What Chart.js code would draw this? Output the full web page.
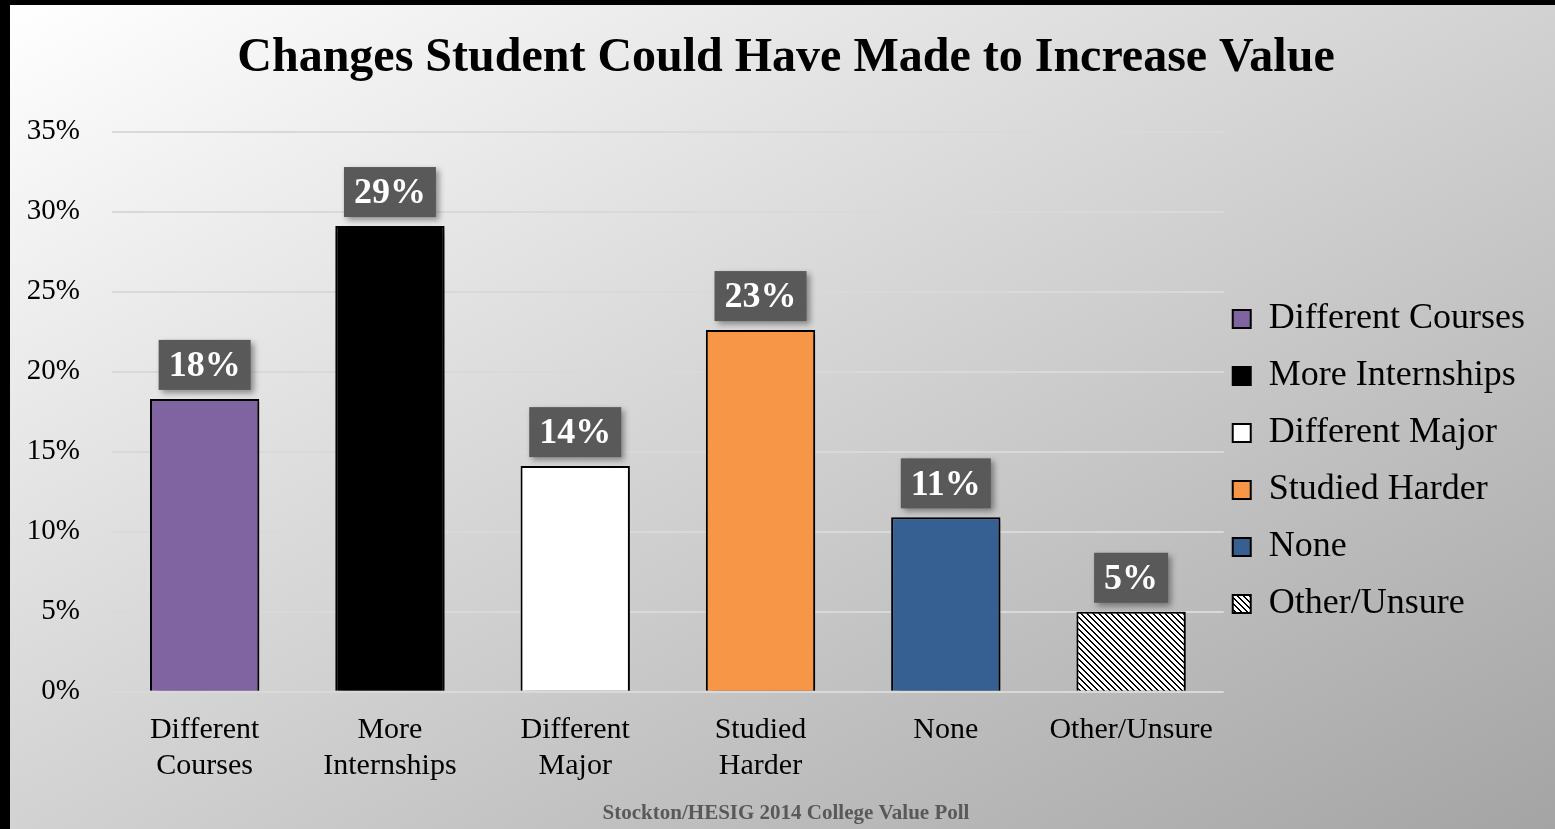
<!DOCTYPE html>
<html>
<head>
<meta charset="utf-8">
<script src="https://cdn.jsdelivr.net/npm/chart.js@4/dist/chart.umd.min.js"></script>
<style>
  html, body { margin: 0; padding: 0; background: #000; }
  #wrap {
    position: absolute; left: 10px; top: 5px; width: 1545px; height: 824px;
    background: linear-gradient(to bottom right, #ffffff 0%, #d2d2d2 50%, #a4a4a4 100%);
  }
  canvas { display: block; }
</style>
</head>
<body>
<div id="wrap"><canvas id="chart" width="1545" height="824"></canvas></div>
<script>
// chart values
var categories = ['Different Courses', 'More Internships', 'Different Major', 'Studied Harder', 'None', 'Other/Unsure'];
var tickLines  = [['Different', 'Courses'], ['More', 'Internships'], ['Different', 'Major'], ['Studied', 'Harder'], ['None'], ['Other/Unsure']];
var percents   = [18.3, 29.1, 14.1, 22.6, 10.9, 5.0];
var yTicks     = [0, 5, 10, 15, 20, 25, 30, 35];

var serif = "'Liberation Serif', 'Times New Roman', serif";

// hatch fill for Other/Unsure
var tile = document.createElement('canvas');
tile.width = 6; tile.height = 6;
var tctx = tile.getContext('2d');
tctx.fillStyle = '#fff';
tctx.fillRect(0, 0, 6, 6);
tctx.fillStyle = '#000';
for (var i = 0; i < 6; i++) {
    tctx.fillRect(i, i, 1, 1);
    tctx.fillRect((i + 1) % 6, i, 1, 1);
}
var hatch = tctx.createPattern(tile, 'repeat');

var barColors = ['#8064a2', '#000000', '#ffffff', '#f79646', '#376092', hatch];

// soft shadow behind bars
var barShadow = {
    id: 'barShadow',
    beforeDatasetsDraw: function(chart) {
        var c = chart.ctx;
        c.save();
        c.shadowColor   = 'rgba(0,0,0,0.45)';
        c.shadowBlur    = 7;
        c.shadowOffsetX = 4;
        c.shadowOffsetY = 3;
    },
    afterDatasetsDraw: function(chart) {
        chart.ctx.restore();
    }
};

// pull the legend a bit closer to the plot
var legendNudge = {
    id: 'legendNudge',
    afterLayout: function(chart) {
        chart.legend.left  -= 12;
        chart.legend.right -= 12;
    }
};

// dark boxes with the rounded value above each bar
var valueBoxes = {
    id: 'valueBoxes',
    afterDatasetsDraw: function(chart) {
        var c = chart.ctx;
        var meta = chart.getDatasetMeta(0);
        c.save();
        c.font = 'bold 36px ' + serif;
        meta.data.forEach(function(bar, i) {
            var txt = Math.round(percents[i]) + '%';
            var w = c.measureText(txt).width + 20;
            var h = 50;
            var x = bar.x - w / 2;
            var y = bar.y - 9 - h;
            c.save();
            c.shadowColor   = 'rgba(0,0,0,0.4)';
            c.shadowBlur    = 6;
            c.shadowOffsetX = 3;
            c.shadowOffsetY = 3;
            c.fillStyle = '#595959';
            c.fillRect(x, y, w, h);
            c.restore();
            c.fillStyle = '#ffffff';
            c.textAlign = 'center';
            c.textBaseline = 'middle';
            c.fillText(txt, bar.x, y + h / 2 + 2);
        });
        c.restore();
    }
};

var ctx = document.getElementById('chart');
var chart = new Chart(ctx, {
    type: 'bar',
    data: {
        labels: categories,
        datasets: [{
            label: 'Share',
            data: percents,
            backgroundColor: barColors,
            borderColor: '#000',
            borderWidth: 2,
            barPercentage: 0.59,
            categoryPercentage: 1
        }]
    },
    options: {
        responsive: false,
        animation: false,
        layout: { padding: { left: 15, right: 8, top: 0, bottom: 3 } },
        plugins: {
            title: {
                display: true,
                text: 'Changes Student Could Have Made to Increase Value',
                color: '#000',
                font: { family: serif, size: 48, weight: 'bold' },
                padding: { top: 25, bottom: 44 }
            },
            subtitle: {
                display: true,
                position: 'bottom',
                text: 'Stockton/HESIG 2014 College Value Poll',
                color: '#595959',
                font: { family: serif, size: 21, weight: 'bold' },
                padding: { top: 5, bottom: 0 }
            },
            legend: {
                position: 'right',
                onClick: null,
                title: {
                    display: true,
                    text: ' ',
                    font: { size: 10 },
                    padding: { top: 80, bottom: 0 }
                },
                labels: {
                    color: '#000',
                    font: { family: serif, size: 36 },
                    boxWidth: 18,
                    boxHeight: 18,
                    padding: 21,
                    generateLabels: function() {
                        return categories.map(function(name, i) {
                            return {
                                text: name,
                                fillStyle: barColors[i],
                                strokeStyle: '#000',
                                fontColor: '#000',
                                lineWidth: 2,
                                hidden: false,
                                index: i,
                                datasetIndex: 0
                            };
                        });
                    }
                }
            },
            tooltip: { enabled: false }
        },
        scales: {
            x: {
                grid: { display: false },
                border: { display: false },
                ticks: {
                    color: '#000',
                    font: { family: serif, size: 30, lineHeight: 1.2 },
                    padding: 12,
                    maxRotation: 0,
                    autoSkip: false,
                    callback: function(v, i) { return tickLines[i]; }
                }
            },
            y: {
                min: yTicks[0],
                max: yTicks[yTicks.length - 1],
                afterBuildTicks: function(axis) {
                    axis.ticks = yTicks.map(function(v) { return { value: v }; });
                },
                afterFit: function(axis) { axis.width = 87; },
                grid: { color: '#d9d9d9', lineWidth: 2, drawTicks: false },
                border: { display: false },
                ticks: {
                    color: '#000',
                    font: { family: serif, size: 29 },
                    padding: 32,
                    callback: function(v) { return v + '%'; }
                }
            }
        }
    },
    plugins: [barShadow, legendNudge, valueBoxes]
});
</script>
</body>
</html>
